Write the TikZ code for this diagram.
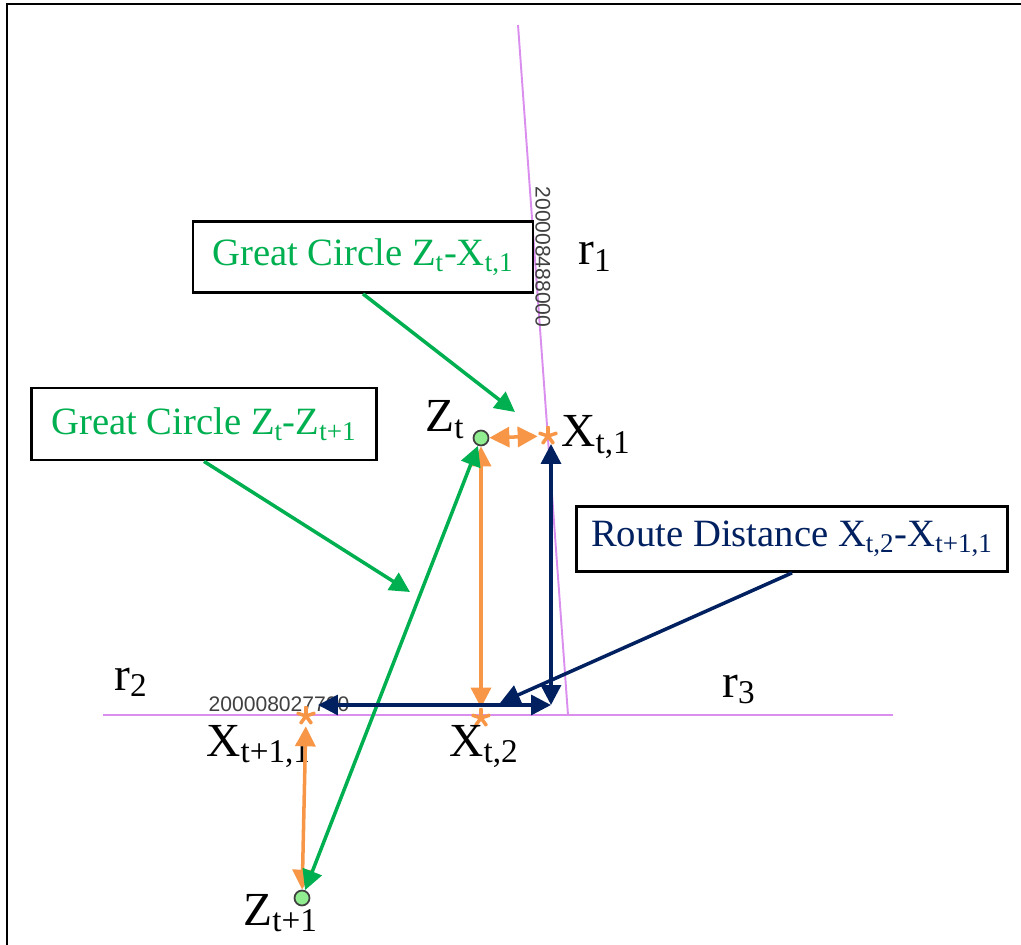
\documentclass[tikz,border=0pt]{standalone}
\usepackage{fontspec}
\setmainfont{Liberation Serif}
\newfontfamily\idfont{Liberation Sans}
\usetikzlibrary{calc,positioning,arrows.meta}
\definecolor{gcgreen}{HTML}{00B050}
\definecolor{rdnavy}{HTML}{002060}
\definecolor{arrorange}{HTML}{F79646}
\definecolor{roadpink}{HTML}{DA8FEE}
\definecolor{ptgreen}{HTML}{90EE90}
\definecolor{ptgray}{HTML}{404040}
\definecolor{idgray}{HTML}{404040}

\begin{document}
\begin{tikzpicture}[
      x=0.02cm, y=-0.02cm,
      >={Triangle[length=0.4cm,width=0.4cm]},
      every node/.style={font=\fontsize{22}{26}\selectfont},
      ptlabel/.style={anchor=base west, inner sep=0pt, font=\fontsize{27}{30}\selectfont},
      callout/.style={
        draw=black, line width=1.6pt,
        fill=white, inner sep=0pt
      },
      road/.style={draw=roadpink, line width=1.1pt},
      roadid/.style={font=\idfont\fontsize{12}{14}\selectfont, text=idgray, inner sep=0pt},
      ptz/.style={circle, draw=ptgray, fill=ptgreen, line width=1pt,
        minimum size=0.3cm, inner sep=0pt},
      ptx/.style={circle, minimum size=0.4cm, inner sep=0pt,
        path picture={
          \foreach \a in {18,90,...,306}
            \draw[arrorange, line width=2pt, line cap=round]
              (path picture bounding box.center) -- ++(\a:0.18cm);
        }},
      oarr/.style={draw=arrorange, line width=2pt},
      garr/.style={draw=gcgreen, line width=2pt},
      narr/.style={draw=rdnavy, line width=2pt}
    ]
      \useasboundingbox (0,0) rectangle (1021,945);
      \draw[line width=1pt] (7,945) -- (7,4) -- (1021,4);

      % roads
      \coordinate (r1top) at (518,25);
      \coordinate (r1bot) at (568,715);
      \coordinate (r2l) at (103,715);
      \coordinate (r3r) at (893,715);
      \draw[road] (r1top) -- (r1bot);
      \draw[road] (r2l) -- (r3r);
      \node[roadid, rotate=-90] (id1) at (543,257) {200008488000};
      \node[roadid] (id2) at (279,704) {200008027700};

      % points
      \node[ptz] (zt) at (481,438) {};
      \node[ptz] (zt1) at (302,898) {};
      \node[ptx] (xt1) at (548,436) {};
      \node[ptx] (xt2) at (481,718) {};
      \node[ptx] (xt11) at (306,716) {};

      \node[ptlabel] (lzt) at (425,432) {Z\textsubscript{t}};
      \node[ptlabel] (lxt1) at (561,447) {X\textsubscript{t,1}};
      \node[ptlabel] (lxt2) at (449,756) {X\textsubscript{t,2}};
      \node[ptlabel] (lxt11) at (206,756) {X\textsubscript{t+1,1}};
      \node[ptlabel] (lzt1) at (243,925) {Z\textsubscript{t+1}};
      \node[ptlabel] (lr1) at (578,265) {r\textsubscript{1}};
      \node[ptlabel] (lr2) at (114,690) {r\textsubscript{2}};
      \node[ptlabel] (lr3) at (722,697) {r\textsubscript{3}};

      % great circle and route distances
      \draw[oarr,<->] (zt) -- (xt1);
      \draw[oarr,<->] (zt) -- (xt2);
      \draw[oarr,<->] (xt11) -- (zt1);
      \draw[garr,<->] (zt1) -- (zt);
      \coordinate (crn) at (551,705);
      \draw[narr,<->,shorten >=0.16cm] (crn) -- (crn |- xt1);
      \draw[narr,<->,shorten >=0.24cm] (crn) -- (crn -| xt11);

      % callouts
      \node[callout, minimum width=6.8cm, minimum height=1.42cm, text=gcgreen]
        (gc1) at (363,257) {Great Circle Z\textsubscript{t}-X\textsubscript{t,1}};
      \node[callout, minimum width=6.9cm, minimum height=1.44cm, text=gcgreen]
        (gc2) at (204,424) {Great Circle Z\textsubscript{t}-Z\textsubscript{t+1}};
      \node[callout, minimum width=8.62cm, minimum height=1.3cm, text=rdnavy]
        (rd) at (792,539) {Route Distance X\textsubscript{t,2}-X\textsubscript{t+1,1}};
      \coordinate (gc1tip) at (515,412);
      \coordinate (gc2tip) at (410,592);
      \coordinate (rdtip) at (500,703);
      \draw[garr,->] (gc1.south) -- (gc1tip);
      \draw[garr,->] (gc2.south) -- (gc2tip);
      \draw[narr,->] (rd.south) -- (rdtip);
    \end{tikzpicture}
\end{document}
